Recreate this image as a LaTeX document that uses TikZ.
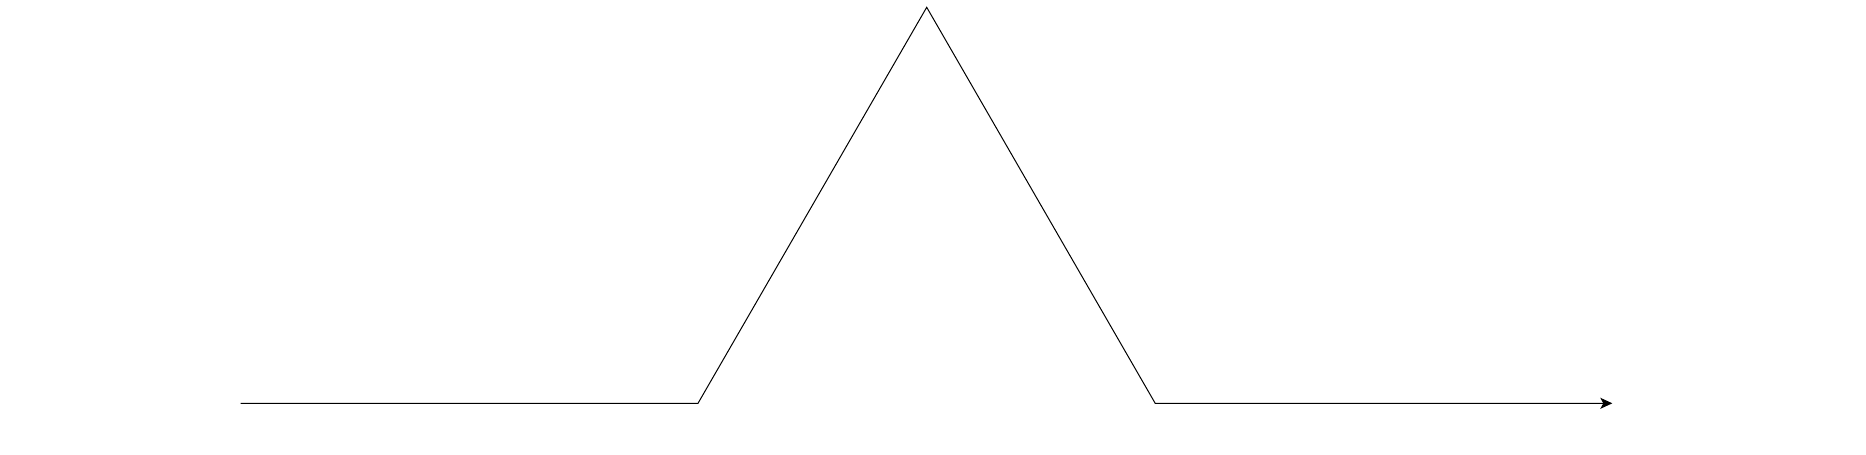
\documentclass[tikz,border=0pt]{standalone}
\usetikzlibrary{arrows.meta}
\begin{document}
\begin{tikzpicture}[x=1pt,y=-1pt,
  koch/.style={line width=1pt,line join=miter,-{Stealth[length=12pt,width=11pt,inset=3pt]}}]
\useasboundingbox (0,0) rectangle (1866,455);
\coordinate (a) at (240.7,403.3);
\coordinate (b) at (698.0,403.3);
\coordinate (c) at (926.7,7.3);
\coordinate (d) at (1155.2,403.3);
\coordinate (e) at (1612.3,403.3);
\draw[koch] (a) -- (b) -- (c) -- (d) -- (e);
\end{tikzpicture}
\end{document}
